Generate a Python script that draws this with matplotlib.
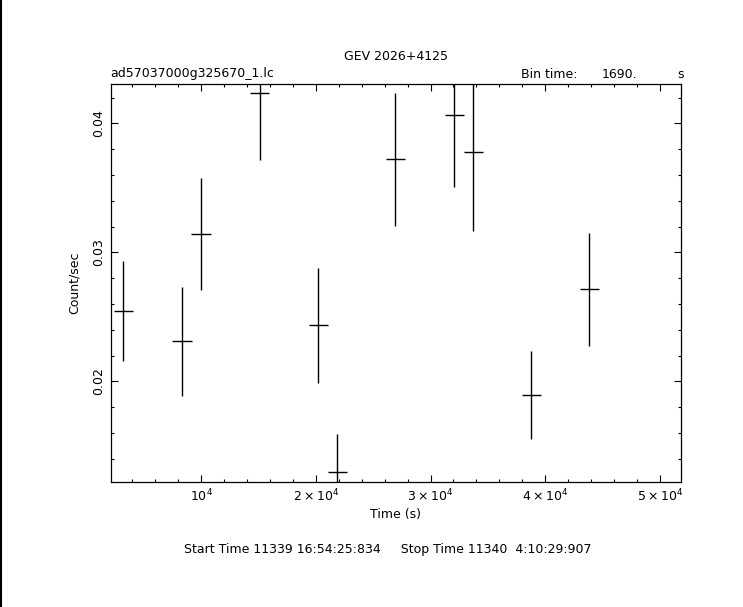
import matplotlib
matplotlib.use("Agg")
import matplotlib.pyplot as plt
from matplotlib.ticker import FixedLocator, MultipleLocator

# light curve bins
time_s = [3229, 8344, 10000, 15115, 20222, 21878, 26932, 32074, 33730, 38784, 43839]
rate = [0.02545, 0.0231, 0.0314, 0.04233, 0.02434, 0.01295, 0.03721, 0.04064, 0.03778, 0.01894, 0.02713]
rate_err = [0.0039, 0.00424, 0.00433, 0.0052, 0.00443, 0.00297, 0.00517, 0.00556, 0.0061, 0.00343, 0.00437]
bin_time = 1690.0

x_ticks = [10000, 20000, 30000, 40000, 50000]
x_tick_labels = [r"$10^4$", r"$2\times10^4$", r"$3\times10^4$", r"$4\times10^4$", r"$5\times10^4$"]
y_ticks = [0.02, 0.03, 0.04]
y_tick_labels = ["0.02", "0.03", "0.04"]

plt.rcParams["font.family"] = ["DejaVu Sans"]
plt.rcParams["mathtext.fontset"] = "dejavusans"

fig = plt.figure(figsize=(7.43, 6.07), dpi=100)
ax = fig.add_axes([0.149, 0.2064, 0.7676, 0.6552])

ax.errorbar(time_s, rate, xerr=bin_time / 2, yerr=rate_err, fmt="none",
            ecolor="black", elinewidth=1.0, capsize=0)

ax.set_xlim(2131, 51830)
ax.set_ylim(0.01222, 0.04305)

ax.xaxis.set_major_locator(FixedLocator(x_ticks))
ax.set_xticklabels(x_tick_labels, fontsize=9)
ax.xaxis.set_minor_locator(MultipleLocator(2000))
ax.yaxis.set_major_locator(FixedLocator(y_ticks))
ax.set_yticklabels(y_tick_labels, fontsize=9, rotation=90, va="center")
ax.yaxis.set_minor_locator(MultipleLocator(0.002))

ax.tick_params(which="both", direction="in", top=True, right=True, width=0.8)
ax.tick_params(which="major", length=5, pad=4)
ax.tick_params(which="minor", length=2.5)
for s in ax.spines.values():
    s.set_linewidth(0.9)

ax.set_xlabel("Time (s)", fontsize=9, labelpad=3)
ax.set_ylabel("Count/sec", fontsize=9, labelpad=8)

fig.text(0.533, 1 - 56 / 607, "GEV 2026+4125", ha="center", va="center", fontsize=9)
fig.text(0.149, 1 - 74 / 607, "ad57037000g325670_1.lc", ha="left", va="center", fontsize=9)
fig.text(521 / 743, 1 - 74 / 607, "Bin time:", ha="left", va="center", fontsize=9)
fig.text(602 / 743, 1 - 74 / 607, "1690.", ha="left", va="center", fontsize=9)
fig.text(677 / 743, 1 - 74 / 607, "s", ha="left", va="center", fontsize=9)
fig.text(388 / 743, 1 - 549 / 607,
         "Start Time 11339 16:54:25:834     Stop Time 11340  4:10:29:907",
         ha="center", va="center", fontsize=9)

# thin black border line at the left edge of the image
fig.add_artist(plt.Line2D([0.001, 0.001], [0, 1], color="black", linewidth=1.5,
                          transform=fig.transFigure))

fig.savefig("out.png", dpi=100)
